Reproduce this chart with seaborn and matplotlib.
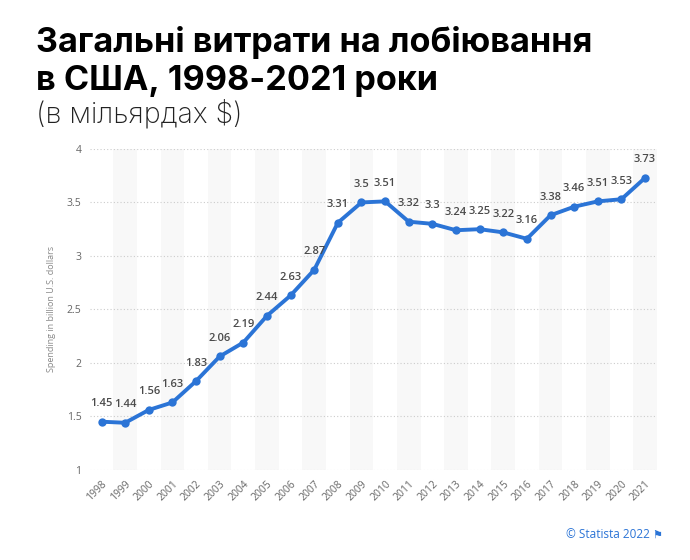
import matplotlib
matplotlib.use("Agg")
import matplotlib.pyplot as plt
import seaborn as sns
import pandas as pd

years = [str(y) for y in range(1998, 2022)]
spending = [1.45, 1.44, 1.56, 1.63, 1.83, 2.06, 2.19, 2.44, 2.63, 2.87, 3.31, 3.5,
            3.51, 3.32, 3.3, 3.24, 3.25, 3.22, 3.16, 3.38, 3.46, 3.51, 3.53, 3.73]
value_labels = ["1.45", "1.44", "1.56", "1.63", "1.83", "2.06", "2.19", "2.44", "2.63",
                "2.87", "3.31", "3.5", "3.51", "3.32", "3.3", "3.24", "3.25", "3.22",
                "3.16", "3.38", "3.46", "3.51", "3.53", "3.73"]
y_ticks = [1, 1.5, 2, 2.5, 3, 3.5, 4]
y_tick_labels = ["1", "1.5", "2", "2.5", "3", "3.5", "4"]

df = pd.DataFrame({"year": years, "spending": spending})

sns.set_theme(style="white")
plt.rcParams["font.family"] = ["Inter", "DejaVu Sans"]
small = ["Open Sans", "DejaVu Sans"]

blue = "#2b74d6"
fig = plt.figure(figsize=(6.9, 5.6), dpi=100)
ax = fig.add_axes([0.130, 0.161, 0.822, 0.573])

# alternating background bands
for i in range(len(years)):
    if i % 2 == 1:
        ax.axvspan(i - 0.5, i + 0.5, color="#f8f8f8", zorder=0, lw=0)

for t in y_ticks:
    ax.axhline(t, color="#cccccc", lw=0.8, ls=(0, (1, 2)), zorder=1)

x = list(range(len(years)))
sns.lineplot(x=x, y=df["spending"], ax=ax, color=blue, lw=2.8, marker="o",
             markersize=6, markeredgewidth=0, zorder=3)

for xi, v, lab in zip(x, spending, value_labels):
    ax.annotate(lab, (xi, v), xytext=(0, 9), textcoords="offset points",
                ha="center", va="bottom", fontsize=8, color="#4a4a4a",
                fontweight="semibold", family=small)

ax.set_xlim(-0.5, 23.5)
ax.set_ylim(1, 4)
ax.set_xticks(x)
ax.set_xticklabels(years, rotation=45, ha="right", rotation_mode="anchor",
                   fontsize=7.5, color="#666666", family=small)
ax.set_yticks(y_ticks)
ax.set_yticklabels(y_tick_labels, fontsize=7.5, color="#666666", family=small)
ax.tick_params(axis="both", length=0, pad=6)
ax.set_ylabel("Spending in billion U.S. dollars", fontsize=6.5, color="#888888",
              family=small, labelpad=8)
ax.set_xlabel("")
sns.despine(ax=ax, left=True, bottom=True)

fig.text(0.052, 0.907, "Загальні витрати на лобіювання", fontsize=24.6,
         fontweight="bold", color="#000000", va="baseline")
fig.text(0.052, 0.839, "в США, 1998-2021 роки", fontsize=24.6,
         fontweight="bold", color="#000000", va="baseline")
fig.text(0.052, 0.782, "(в мільярдах $)", fontsize=20.5, fontweight="light",
         color="#222222", va="baseline")

fig.text(0.942, 0.040, "© Statista 2022", fontsize=8.5, color=blue,
         ha="right", va="baseline", family=small)
fig.text(0.953, 0.040, "⚑", fontsize=8, color=blue, ha="center", va="baseline",
         family=["DejaVu Sans"])

fig.savefig("out.png", dpi=100)
